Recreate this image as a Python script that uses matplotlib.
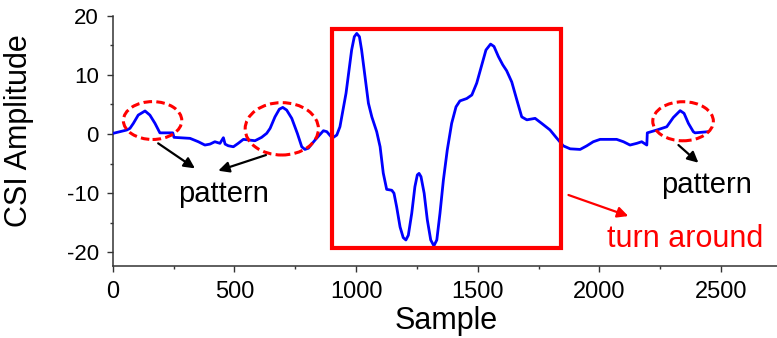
import matplotlib
matplotlib.use("Agg")
import matplotlib.pyplot as plt
from matplotlib.patches import Ellipse, Rectangle

plt.rcParams['font.family'] = ['Liberation Sans', 'DejaVu Sans']
plt.rcParams['axes.unicode_minus'] = False

# CSI amplitude trace (sample index, amplitude)
sample = [2, 30, 58, 71, 85, 105, 133, 153, 174, 194, 247, 252, 318, 352, 379,
          400, 420, 441, 455, 462, 475, 496, 516, 537, 585, 612, 633, 647, 667,
          685, 699, 715, 736, 759, 777, 790, 804, 832, 866, 880, 900, 907, 921,
          934, 959, 982, 993, 1003, 1014, 1023, 1037, 1051, 1065, 1085, 1099,
          1112, 1126, 1147, 1156, 1167, 1181, 1194, 1205, 1215, 1229, 1242,
          1252, 1259, 1267, 1280, 1293, 1307, 1320, 1332, 1345, 1359, 1375,
          1393, 1411, 1427, 1455, 1476, 1496, 1517, 1534, 1553, 1567, 1585,
          1603, 1619, 1640, 1661, 1681, 1702, 1736, 1763, 1797, 1825, 1852,
          1880, 1921, 1948, 1975, 2003, 2071, 2099, 2126, 2154, 2174, 2195,
          2197, 2236, 2277, 2304, 2332, 2348, 2366, 2386, 2393, 2448]
amplitude = [0.12, 0.4, 0.68, 0.96, 1.8, 3.2, 3.9, 3.2, 1.8, 0.2, 0.2, -0.56,
             -0.73, -1.3, -1.86, -1.7, -1.3, -1.57, -0.62, -1.7, -1.98, -2.15,
             -1.57, -0.9, -1.13, -0.56, 0.12, 0.96, 2.9, 4.2, 4.5, 4.05, 2.65,
             0.1, -2.15, -2.6, -2.4, -1.0, 0.56, 0.4, -0.56, -0.56, -0.17,
             1.23, 6.9, 14.2, 16.45, 17.0, 16.45, 14.2, 9.7, 5.2, 2.9, 0.4,
             -2.15, -6.6, -9.35, -9.5, -10.0, -12.3, -15.7, -17.5, -17.9,
             -17.1, -13.4, -8.9, -6.9, -6.65, -7.2, -10.0, -14.5, -17.9, -18.9,
             -17.9, -13.4, -7.8, -2.7, 1.8, 4.6, 5.6, 6.0, 6.6, 8.6, 11.7, 14.2,
             15.2, 14.8, 13.1, 11.7, 10.7, 8.8, 5.75, 2.9, 2.4, 2.65, 1.8, 0.7,
             -0.7, -2.0, -2.5, -2.6, -2.0, -1.3, -0.9, -0.9, -1.3, -1.86, -1.57,
             -1.3, -1.86, 0.2, 0.68, 1.23, 2.8, 3.95, 3.5, 1.8, 0.4, 0.2, 0.4]

x_ticks = [0, 500, 1000, 1500, 2000, 2500]
y_ticks = [-20, -10, 0, 10, 20]

# turn-around segment box: (start, end, low, high)
turn_box = (903, 1841, -19.2, 17.7)

# highlighted patterns: (center sample, center amplitude, width, height)
pattern_marks = [(164, 2.28, 240, 6.4),
                 (695, 0.88, 301, 8.85),
                 (2344, 2.16, 249, 6.6)]

fig = plt.figure(figsize=(7.77, 3.38), dpi=100)
ax = fig.add_axes([0.145, 0.213, 0.855, 0.7406])

ax.plot(sample, amplitude, color='#0000ff', lw=2.0, zorder=3,
        solid_joinstyle='round', solid_capstyle='round')

ax.set_xlim(0, 2730)
ax.set_ylim(-22.3, 20)
ax.set_xticks(x_ticks)
ax.set_yticks(y_ticks)
ax.set_xticks(range(250, 2750, 500), minor=True)
ax.set_yticks([-15, -5, 5, 15], minor=True)

for s in ['top', 'right']:
    ax.spines[s].set_visible(False)
for s in ['left', 'bottom']:
    ax.spines[s].set_linewidth(1.1)
    ax.spines[s].set_color('#333333')

ax.tick_params(which='major', direction='out', length=4, width=1.0,
               color='#333333')
ax.tick_params(which='minor', direction='out', length=2.5, width=1.0,
               color='#333333')
ax.tick_params(axis='x', labelsize=17, pad=7)
ax.tick_params(axis='y', labelsize=16, pad=6)

ax.set_xlabel('Sample', fontsize=22)
ax.set_ylabel('CSI Amplitude', fontsize=22)
ax.xaxis.set_label_coords(0.5025, -0.16)
ax.yaxis.set_label_coords(-0.118, 0.539)

x0, x1, y0, y1 = turn_box
ax.add_patch(Rectangle((x0, y0), x1 - x0, y1 - y0, fill=False,
                       edgecolor='#ff0000', lw=3.0, zorder=4))

for cx, cy, w, h in pattern_marks:
    ax.add_patch(Ellipse((cx, cy), w, h, fill=False, edgecolor='#ff0000',
                         lw=2.2, linestyle=(0, (2.8, 1.4)), zorder=4,
                         clip_on=False))

arrow_kw = dict(arrowstyle='-|>', color='black', lw=1.6, mutation_scale=16,
                shrinkA=0, shrinkB=0)
ax.annotate('', xy=(338, -5.8), xytext=(187, -1.57), arrowprops=arrow_kw)
ax.annotate('', xy=(434, -6.2), xytext=(630, -3.55), arrowprops=arrow_kw)
ax.annotate('', xy=(2407, -4.85), xytext=(2325, -1.86), arrowprops=arrow_kw)
ax.annotate('', xy=(2119, -13.86), xytext=(1873, -10.3),
            arrowprops=dict(arrow_kw, color='#ff0000'), annotation_clip=False)

ax.text(455, -11.45, 'pattern', fontsize=21, ha='center', va='baseline')
ax.text(2441, -10.0, 'pattern', fontsize=21, ha='center', va='baseline')
ax.text(2352, -19.05, 'turn around', fontsize=22, ha='center',
        va='baseline', color='#ff0000', clip_on=False)

fig.savefig('out.png', dpi=100)
